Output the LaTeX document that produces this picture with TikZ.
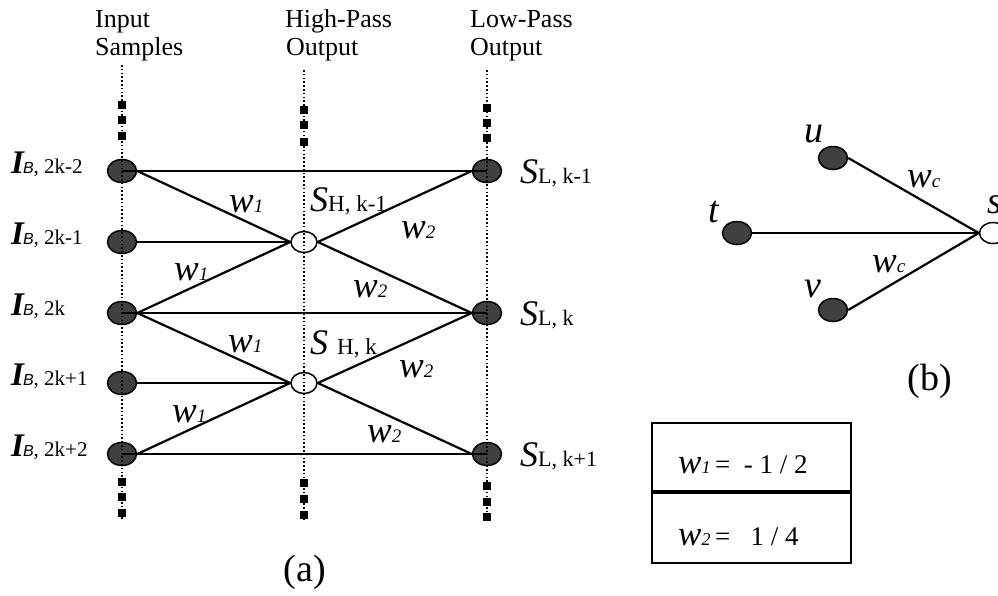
\documentclass[tikz,border=0pt]{standalone}
\usepackage{fontspec}
\setmainfont{Liberation Serif}
\newfontfamily\sansB{Liberation Sans}
\usetikzlibrary{shapes.geometric}
\newcommand\fsz[1]{\fontsize{#1}{#1}\selectfont}
\newcommand\IB[1]{{\fsz{33}\bfseries\itshape I}\kern-1pt{\sansB\fsz{16}\itshape B}{\fsz{21}, #1}}
\newcommand\wl[1]{{\fsz{37}\itshape w}{\fsz{19}\itshape #1}}
\begin{document}
\begin{tikzpicture}[x=1pt,y=-1pt,
  filled/.style={ellipse, draw=black, line width=1.5pt, fill=black!75, minimum width=29pt, minimum height=23pt, inner sep=0pt},
  hollow/.style={ellipse, draw=black, line width=1.5pt, fill=white, minimum width=26pt, minimum height=21pt, inner sep=0pt},
  edge/.style={line width=2.2pt},
  dots/.style={line width=1.6pt, dash pattern=on 1.5pt off 2.3pt},
  sq/.style={rectangle, fill=black, minimum size=7.5pt, inner sep=0pt},
  lbl/.style={anchor=base west, inner sep=0pt},
  hdr/.style={anchor=base west, inner sep=0pt, font=\fsz{26}},
]
\useasboundingbox (0,0) rectangle (998,595);

% headers
\node[hdr] (h1a) at (95,27) {Input};
\node[hdr] (h1b) at (95,55) {Samples};
\node[hdr] (h2a) at (285,27) {High-Pass};
\node[hdr] (h2b) at (286,55) {Output};
\node[hdr] (h3a) at (470,27) {Low-Pass};
\node[hdr] (h3b) at (470,55) {Output};

% nodes (a)
\node[filled] (I1) at (122,171) {};
\node[filled] (I2) at (122,242) {};
\node[filled] (I3) at (122,313) {};
\node[filled] (I4) at (122,383) {};
\node[filled] (I5) at (122,454) {};
\node[hollow] (H1) at (304,242) {};
\node[hollow] (H2) at (304,383) {};
\node[filled] (L1) at (487,171) {};
\node[filled] (L3) at (487,313) {};
\node[filled] (L5) at (487,454) {};

% edges (a)
\draw[edge] (I1.center) -- (L1.center);
\draw[edge] (I3.center) -- (L3.center);
\draw[edge] (I5.center) -- (L5.center);
\draw[edge] (I1.east) -- (H1.west);
\draw[edge] (I2.east) -- (H1.west);
\draw[edge] (I3.east) -- (H1.west);
\draw[edge] (H1.east) -- (L1.west);
\draw[edge] (H1.east) -- (L3.west);
\draw[edge] (I3.east) -- (H2.west);
\draw[edge] (I4.east) -- (H2.west);
\draw[edge] (I5.east) -- (H2.west);
\draw[edge] (H2.east) -- (L3.west);
\draw[edge] (H2.east) -- (L5.west);

% dotted columns
\coordinate (cIt) at (122,65);  \coordinate (cIb) at (122,520);
\coordinate (cHt) at (304,70);  \coordinate (cHb) at (304,520);
\coordinate (cLt) at (487,70);  \coordinate (cLb) at (487,522);
\draw[dots] (cIt) -- (cIb);
\draw[dots] (cHt) -- (cHb);
\draw[dots] (cLt) -- (cLb);

\foreach \y [count=\i] in {105,120,136,482,497,513} \node[sq] (sqI\i) at (122,\y) {};
\foreach \y [count=\i] in {110,125,142,483,499,515} \node[sq] (sqH\i) at (304,\y) {};
\foreach \y [count=\i] in {108,123,138,486,502,517} \node[sq] (sqL\i) at (487,\y) {};

% left labels
\node[lbl] (lI1) at (11,173) {\IB{2k-2}};
\node[lbl] (lI2) at (11,244) {\IB{2k-1}};
\node[lbl] (lI3) at (11,315) {\IB{2k}};
\node[lbl] (lI4) at (11,385) {\IB{2k+1}};
\node[lbl] (lI5) at (11,456) {\IB{2k+2}};

% right labels
\node[lbl] (lL1) at (520,183) {{\fsz{36}\itshape S}{\fsz{22}L, k-1}};
\node[lbl] (lL3) at (520,325) {{\fsz{36}\itshape S}{\fsz{22}L, k}};
\node[lbl] (lL5) at (520,466) {{\fsz{36}\itshape S}{\fsz{22}L, k+1}};

% high-pass labels
\node[lbl] (lH1) at (310,211) {{\fsz{36}\itshape S}{\fsz{23}H, k-1}};
\node[lbl] (lH2) at (310,354) {{\fsz{36}\itshape S}\hspace{9pt}{\fsz{23}H, k}};

% weights
\node[lbl] (wa1) at (229,212) {\wl{1}};
\node[lbl] (wa2) at (401,238) {\wl{2}};
\node[lbl] (wa3) at (174,280) {\wl{1}};
\node[lbl] (wa4) at (353,297) {\wl{2}};
\node[lbl] (wa5) at (228,352) {\wl{1}};
\node[lbl] (wa6) at (399,377) {\wl{2}};
\node[lbl] (wa7) at (172,422) {\wl{1}};
\node[lbl] (wa8) at (367,442) {\wl{2}};

\node[font=\fsz{38}] (capa) at (305,572) {(a)};

% part (b)
\node[filled] (u) at (833,158) {};
\node[filled] (t) at (737,233) {};
\node[filled] (v) at (833,310) {};
\node[hollow, minimum width=27pt] (s) at (993,233) {};
\draw[edge] (u.east) -- (s.west);
\draw[edge] (t.east) -- (s.west);
\draw[edge] (v.east) -- (s.west);
\node[lbl, font=\fsz{38}\itshape] (lu) at (804,142) {u};
\node[lbl, font=\fsz{38}\itshape] (lt) at (708,222) {t};
\node[lbl, font=\fsz{38}\itshape] (lv) at (804,297) {v};
\node[lbl, font=\fsz{38}\itshape] (ls) at (987,213) {s};
\node[lbl] (wc1) at (907,187) {\wl{c}};
\node[lbl] (wc2) at (872,272) {\wl{c}};
\node[font=\fsz{38}] (capb) at (930,381) {(b)};

% table
\draw[line width=2pt] (652,423) rectangle (851,563);
\draw[line width=3.5pt] (652,492) -- (851,492);
\node[lbl] (tw1) at (678,473) {{\fsz{35}\itshape w}{\fsz{18}\itshape 1}{\fsz{27}\,=\ \ - 1 / 2}};
\node[lbl] (tw2) at (678,545) {{\fsz{35}\itshape w}{\fsz{18}\itshape 2}{\fsz{27}\,=\ \ \ 1 / 4}};
\end{tikzpicture}
\end{document}
